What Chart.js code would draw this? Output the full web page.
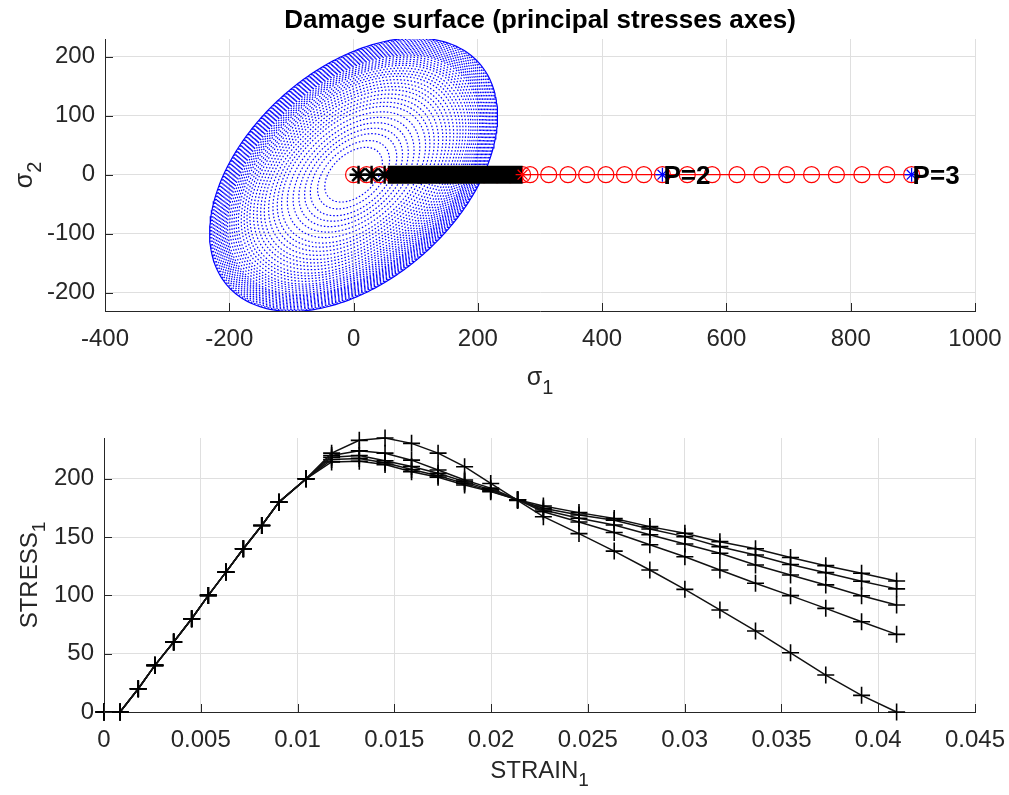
<!DOCTYPE html>
<html>
<head>
<meta charset="utf-8">
<title>Damage surface</title>
<script src="https://cdn.jsdelivr.net/npm/chart.js@4.4.0/dist/chart.umd.min.js"></script>
<style>
  html, body { margin: 0; padding: 0; background: #fff; }
  #wrap { position: relative; width: 1009px; height: 795px; }
  .panel { position: absolute; left: 0; width: 1009px; }
  #surfPanel { top: 0; height: 400px; }
  #curvePanel { top: 400px; height: 395px; }
</style>
</head>
<body>
<div id="wrap">
  <div class="panel" id="surfPanel"><canvas id="surfChart"></canvas></div>
  <div class="panel" id="curvePanel"><canvas id="curveChart"></canvas></div>
</div>
<script>
// ---- damage surface (principal stress plane) ----
const s1Ticks = [-400, -200, 0, 200, 400, 600, 800, 1000];
const s2Ticks = [-200, -100, 0, 100, 200];

// ellipse semi-axes along the (1,1) and (1,-1) directions, and the q/q0 ratio of each surface drawn
const surfAxes = [277, 175];
const surfScales = [0.2, 0.25, 0.3, 0.34, 0.38, 0.42, 0.46, 0.5, 0.53, 0.56, 0.59, 0.62, 0.645, 0.67,
  0.695, 0.72, 0.74, 0.76, 0.78, 0.8, 0.815, 0.83, 0.845, 0.86, 0.875, 0.885, 0.895, 0.905, 0.915,
  0.925, 0.935, 0.945, 0.955, 0.965, 0.975, 0.985, 0.993, 1.0];

// effective stress path (sigma_2 = 0 along the whole path)
const pathS1 = [0, 21, 42, 63, 84, 105, 126, 147, 168, 189, 210, 231, 252, 272,
  284, 314, 345, 375, 406, 436, 467, 497,
  537, 577, 617, 657, 697, 737, 777, 818, 858, 898];
const bandS1 = [55, 272];
const bandMarkS1 = [8, 29, 50, 108];
const loadLabels = ['P=2', 'P=3'];
const loadS1 = [497, 898];

// ---- stress-strain curves ----
const strainTicks = [0, 0.005, 0.01, 0.015, 0.02, 0.025, 0.03, 0.035, 0.04, 0.045];
const stressTicks = [0, 50, 100, 150, 200];
const strainSteps = [0, 0.00083, 0.00177, 0.00263, 0.0036, 0.00453, 0.00539, 0.0063, 0.0072, 0.00815,
  0.00904, 0.01044, 0.01176, 0.01319, 0.01452, 0.01589, 0.01726, 0.01863, 0.01998, 0.02137, 0.0227,
  0.02454, 0.02636, 0.0282, 0.03001, 0.03182, 0.03366, 0.03547, 0.03729, 0.03914, 0.04095];
const elasticStress = [0, 0, 20, 40, 60, 80, 100, 120, 140, 160, 180, 200];
const stressA = [222, 233, 235, 230.4, 222, 210.4, 196, 181.5, 167.5, 153, 138, 121.8, 105.2, 87.5, 69.5, 50.8, 31.7, 14.3, 0];
const stressB = [220, 224, 222, 216, 207.5, 199, 192, 182, 171.8, 163, 154, 143.5, 133.2, 121.8, 110.4, 99.8, 88.9, 77.4, 66.6];
const stressC = [218.5, 220, 215.5, 210.5, 204.7, 197.6, 190.5, 182, 173.2, 166.2, 160.4, 152, 144.1, 136.1, 126.1, 117.5, 109, 99.7, 91.8];
const stressD = [216.5, 217.5, 213.8, 208, 202.7, 196.1, 189.5, 182, 174.7, 169, 164.5, 157, 150.4, 141.8, 134.6, 126.5, 119.5, 112.2, 105.6];
const stressE = [214.5, 215, 212.2, 206, 201.3, 194.7, 189, 182, 176.7, 171, 166, 159, 153.3, 146.1, 140, 132.5, 125.5, 119, 112.3];

const FONT = '"Liberation Sans", Arial, Helvetica, sans-serif';
const AXIS_COLOR = '#262626';
const GRID_COLOR = '#dfdfdf';
const TICK_FONT = { family: FONT, size: 24 };

// polar sampling of a rotated ellipse, same as the damage criterion plot
function ellipsePoints(scale) {
  const [a, b] = surfAxes;
  const pts = [];
  for (let i = 0; i <= 315; i++) {
    const th = i * 0.02;
    const c = Math.cos(th), s = Math.sin(th);
    const u = (c + s) / Math.SQRT2;
    const v = (s - c) / Math.SQRT2;
    const r = scale / Math.sqrt(u * u / (a * a) + v * v / (b * b));
    pts.push({ x: r * c, y: r * s });
  }
  return pts;
}

function drawSubText(ctx, main, sub, x, y, rotate, size, weight) {
  ctx.save();
  ctx.translate(x, y);
  if (rotate) ctx.rotate(-Math.PI / 2);
  const mainFont = `${weight || ''} ${size}px ${FONT}`;
  const subFont = `${weight || ''} ${Math.round(size * 0.8)}px ${FONT}`;
  ctx.font = mainFont;
  const wMain = ctx.measureText(main).width;
  ctx.font = subFont;
  const wSub = sub ? ctx.measureText(sub).width : 0;
  const left = -(wMain + wSub) / 2;
  ctx.fillStyle = AXIS_COLOR;
  ctx.textBaseline = 'middle';
  ctx.textAlign = 'left';
  ctx.font = mainFont;
  ctx.fillText(main, left, 0);
  if (sub) {
    ctx.font = subFont;
    ctx.fillText(sub, left + wMain, size * 0.4);
  }
  ctx.restore();
}

// inward tick marks, axis titles, plot title and point labels
const axisDecor = {
  id: 'axisDecor',
  afterDraw(chart, args, opts) {
    const { ctx, chartArea: area, scales } = chart;
    ctx.save();
    ctx.strokeStyle = AXIS_COLOR;
    ctx.lineWidth = 1;
    scales.x.ticks.forEach(t => {
      const px = Math.round(scales.x.getPixelForValue(t.value)) + 0.5;
      ctx.beginPath();
      ctx.moveTo(px, area.bottom);
      ctx.lineTo(px, area.bottom - 8);
      ctx.stroke();
    });
    scales.y.ticks.forEach(t => {
      const py = Math.round(scales.y.getPixelForValue(t.value)) + 0.5;
      ctx.beginPath();
      ctx.moveTo(area.left, py);
      ctx.lineTo(area.left + 8, py);
      ctx.stroke();
    });
    ctx.restore();

    if (opts.title) {
      ctx.save();
      ctx.font = `bold ${opts.title.size}px ${FONT}`;
      ctx.fillStyle = '#000';
      ctx.textAlign = 'center';
      ctx.textBaseline = 'middle';
      ctx.fillText(opts.title.text, (area.left + area.right) / 2, opts.title.y);
      ctx.restore();
    }
    const xt = opts.xTitle, yt = opts.yTitle;
    drawSubText(ctx, xt.text, xt.sub, (area.left + area.right) / 2, xt.y, false, xt.size);
    drawSubText(ctx, yt.text, yt.sub, yt.x, (area.top + area.bottom) / 2, true, yt.size);

    (opts.labels || []).forEach(l => {
      ctx.save();
      ctx.font = `bold 26px ${FONT}`;
      ctx.fillStyle = '#000';
      ctx.textAlign = 'left';
      ctx.textBaseline = 'middle';
      ctx.fillText(l.text, scales.x.getPixelForValue(l.x) + 1, scales.y.getPixelForValue(l.y) + 2);
      ctx.restore();
    });
  }
};

// fixed axis box sizes so both panels line up; label overhang is ignored
function fixedX(height) {
  return s => { s.height = height; s.paddingLeft = 0; s.paddingRight = 0; };
}
function fixedY(width) {
  return s => { s.width = width; s.paddingTop = 0; s.paddingBottom = 0; };
}

function axisOptions(min, max, tickValues, fit, fmt, pad) {
  return {
    type: 'linear',
    min, max,
    afterBuildTicks: s => { s.ticks = tickValues.map(v => ({ value: v })); },
    afterFit: fit,
    grid: { color: GRID_COLOR, drawTicks: false, lineWidth: 1 },
    border: { display: true, color: AXIS_COLOR, width: 1 },
    ticks: {
      color: AXIS_COLOR, font: TICK_FONT, padding: pad,
      autoSkip: false, maxRotation: 0,
      callback: fmt
    }
  };
}

// ---- top panel ----
const surfDatasets = [];
surfScales.forEach((sc, i) => {
  surfDatasets.push({
    data: ellipsePoints(sc),
    showLine: true,
    borderColor: '#0000ff',
    borderWidth: 1.2,
    borderDash: i === surfScales.length - 1 ? [] : [1.5, 2],
    pointRadius: 0,
    order: 10
  });
});
surfDatasets.push({
  data: pathS1.map(v => ({ x: v, y: 0 })),
  showLine: true,
  borderColor: '#ff0000',
  borderWidth: 1.2,
  pointStyle: 'circle',
  pointRadius: 8,
  pointBorderColor: '#ff0000',
  pointBackgroundColor: 'rgba(0,0,0,0)',
  pointBorderWidth: 1.2,
  order: 4
});
surfDatasets.push({
  data: bandS1.map(v => ({ x: v, y: 0 })),
  showLine: true,
  borderColor: '#000',
  borderWidth: 18,
  borderCapStyle: 'butt',
  pointRadius: 0,
  order: 3
});
surfDatasets.push({
  data: bandMarkS1.map(v => ({ x: v, y: 0 })),
  showLine: false,
  pointStyle: 'star',
  pointRadius: 9,
  pointBorderColor: '#000',
  pointBorderWidth: 2.4,
  order: 3
});
surfDatasets.push({
  data: [{ x: bandS1[1], y: 0 }],
  showLine: false,
  pointStyle: 'star',
  pointRadius: 7,
  pointBorderColor: '#ff0000',
  pointBorderWidth: 1.2,
  order: 2
});
surfDatasets.push({
  data: loadS1.map(v => ({ x: v, y: 0 })),
  showLine: false,
  pointStyle: 'star',
  pointRadius: 7,
  pointBorderColor: '#0000ff',
  pointBorderWidth: 1.3,
  order: 1
});

new Chart(document.getElementById('surfChart'), {
  type: 'scatter',
  data: { datasets: surfDatasets },
  options: {
    responsive: true,
    maintainAspectRatio: false,
    animation: false,
    events: [],
    layout: { padding: { top: 39, right: 34, left: 0, bottom: 0 } },
    scales: {
      x: axisOptions(-400, 1000, s1Ticks, fixedX(89), v => String(v), 14),
      y: axisOptions(-231, 230, s2Ticks, fixedY(105), v => String(v), 10)
    },
    plugins: {
      legend: { display: false },
      tooltip: { enabled: false },
      axisDecor: {
        title: { text: 'Damage surface (principal stresses axes)', size: 26, y: 21 },
        xTitle: { text: 'σ', sub: '1', y: 378, size: 25 },
        yTitle: { text: 'σ', sub: '2', x: 25, size: 25 },
        labels: loadLabels.map((t, i) => ({ text: t, x: loadS1[i], y: 0 }))
      }
    }
  },
  plugins: [axisDecor]
});

// ---- bottom panel ----
const curveSets = [stressA, stressB, stressC, stressD, stressE];
const curveDatasets = curveSets.map(tail => {
  const stress = elasticStress.concat(tail);
  return {
    data: strainSteps.map((e, i) => ({ x: e, y: stress[i] })),
    showLine: true,
    borderColor: '#111',
    borderWidth: 1.5,
    pointStyle: 'cross',
    pointRadius: 8.5,
    pointBorderColor: '#000',
    pointBorderWidth: 1.6,
    clip: false
  };
});

new Chart(document.getElementById('curveChart'), {
  type: 'scatter',
  data: { datasets: curveDatasets },
  options: {
    responsive: true,
    maintainAspectRatio: false,
    animation: false,
    events: [],
    layout: { padding: { top: 38, right: 34, left: 0, bottom: 0 } },
    scales: {
      x: axisOptions(0, 0.045, strainTicks, fixedX(83), v => String(+v.toFixed(3)), 14),
      y: axisOptions(0, 235, stressTicks, fixedY(104), v => String(v), 10)
    },
    plugins: {
      legend: { display: false },
      tooltip: { enabled: false },
      axisDecor: {
        xTitle: { text: 'STRAIN', sub: '1', y: 371, size: 24 },
        yTitle: { text: 'STRESS', sub: '1', x: 30, size: 24 }
      }
    }
  },
  plugins: [axisDecor]
});
</script>
</body>
</html>
